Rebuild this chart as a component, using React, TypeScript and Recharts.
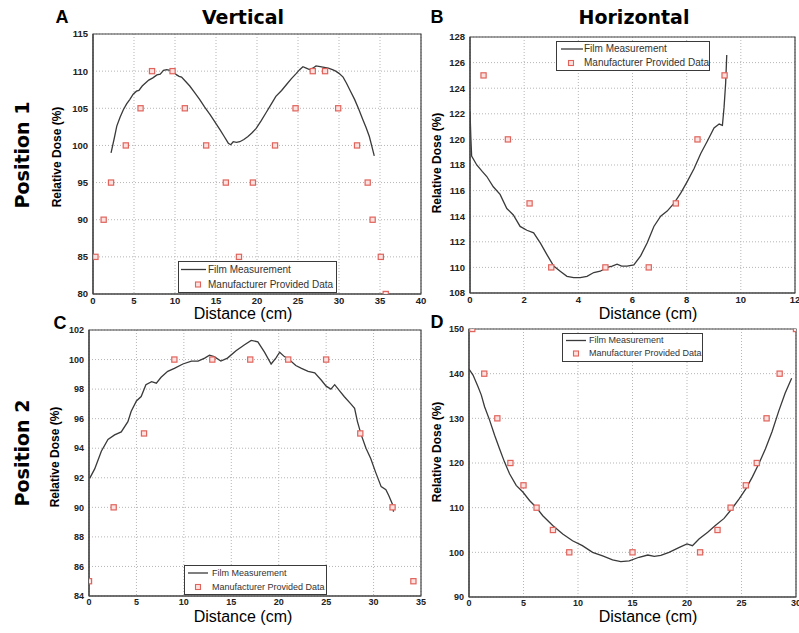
import React from 'react';
import {
  ComposedChart,
  Line,
  Scatter,
  XAxis,
  YAxis,
  CartesianGrid,
  Legend,
  ReferenceArea,
} from 'recharts';

// ---------- Panel A (Position 1, Vertical) ----------
const filmAX = [2.2, 2.6, 2.9, 3.3, 3.7, 4.1, 4.5, 4.9, 5.3, 5.6, 6.0, 6.4, 6.8, 7.3, 7.8, 8.2, 8.6, 9.0, 9.4, 9.8, 10.2, 10.5, 10.8, 11.3, 11.8, 12.4, 13.0, 13.6, 14.3, 14.9, 15.5, 16.0, 16.5, 16.8, 17.1, 17.5, 17.9, 18.4, 18.9, 19.4, 19.9, 20.5, 21.1, 21.7, 22.3, 23.0, 23.6, 24.2, 24.8, 25.2, 25.6, 26.0, 26.4, 26.8, 27.2, 27.7, 28.2, 28.7, 29.2, 29.6, 30.0, 30.5, 30.9, 31.4, 31.9, 32.4, 32.9, 33.3, 33.7, 34.0, 34.3];
const filmAY = [99.0, 101.0, 102.6, 103.8, 104.8, 105.6, 106.2, 106.9, 107.3, 107.4, 108.0, 108.4, 108.8, 109.1, 109.5, 109.6, 110.1, 110.2, 110.1, 109.9, 109.5, 109.3, 109.2, 108.6, 108.0, 107.1, 106.2, 105.2, 104.1, 103.1, 102.1, 101.2, 100.3, 100.1, 100.5, 100.4, 100.5, 100.8, 101.2, 101.7, 102.3, 103.3, 104.4, 105.5, 106.6, 107.4, 108.2, 109.0, 109.7, 110.2, 110.6, 110.4, 110.2, 110.4, 110.7, 110.6, 110.5, 110.4, 110.2, 110.0, 109.7, 109.2, 108.4, 107.3, 106.2, 104.9, 103.5, 102.4, 101.2, 99.9, 98.6];
const mfrAX = [0.3, 1.3, 2.2, 4.0, 5.8, 7.2, 9.7, 11.2, 13.8, 16.2, 17.8, 19.5, 22.2, 24.7, 26.8, 28.3, 29.9, 32.2, 33.5, 34.1, 35.1, 35.7];
const mfrAY = [85, 90, 95, 100, 105, 110, 110, 105, 100, 95, 85, 95, 100, 105, 110, 110, 105, 100, 95, 90, 85, 80];
const xTicksA = [0, 5, 10, 15, 20, 25, 30, 35, 40];
const yTicksA = [80, 85, 90, 95, 100, 105, 110, 115];

// ---------- Panel B (Position 1, Horizontal) ----------
const filmBX = [0, 0.03, 0.06, 0.25, 0.45, 0.62, 0.86, 1.11, 1.36, 1.6, 1.85, 2.1, 2.35, 2.6, 2.84, 3.09, 3.33, 3.58, 3.83, 4.07, 4.32, 4.57, 4.81, 5.06, 5.25, 5.43, 5.6, 5.8, 6.05, 6.3, 6.54, 6.79, 7.04, 7.28, 7.53, 7.78, 8.02, 8.27, 8.52, 8.77, 9.01, 9.2, 9.32, 9.38, 9.44, 9.48];
const filmBY = [122.2, 120.2, 118.7, 118.0, 117.5, 117.1, 116.3, 115.7, 114.6, 114.1, 113.2, 112.9, 112.7, 111.9, 111.0, 110.1, 109.7, 109.3, 109.2, 109.2, 109.3, 109.6, 109.7, 110.0, 110.1, 110.25, 110.1, 110.1, 110.2, 110.9, 111.9, 113.2, 114.0, 114.4, 115.0, 115.8, 116.7, 117.7, 118.9, 119.9, 120.9, 121.2, 121.1, 122.5, 124.4, 126.6];
const mfrBX = [0.5, 1.4, 2.2, 3.0, 5.0, 6.6, 7.6, 8.4, 9.4];
const mfrBY = [125, 120, 115, 110, 110, 110, 115, 120, 125];
const xTicksB = [0, 2, 4, 6, 8, 10, 12];
const yTicksB = [108, 110, 112, 114, 116, 118, 120, 122, 124, 126, 128];

// ---------- Panel C (Position 2, Vertical) ----------
const filmCX = [0.07, 0.6, 1.3, 2.0, 2.7, 3.4, 4.1, 4.45, 5.0, 5.5, 6.0, 6.6, 7.1, 7.6, 8.3, 9.0, 9.9, 10.8, 11.5, 12.2, 12.7, 13.2, 13.9, 14.6, 15.5, 16.4, 17.1, 17.8, 18.5, 19.2, 19.7, 20.1, 20.6, 21.1, 21.8, 22.4, 23.1, 23.8, 24.5, 25.0, 25.5, 25.9, 26.4, 26.9, 27.6, 28.0, 28.3, 28.7, 29.2, 29.7, 30.2, 30.8, 31.3, 31.6, 32.0, 32.1];
const filmCY = [91.96, 92.6, 93.8, 94.6, 94.9, 95.1, 95.8, 96.5, 97.2, 97.5, 98.3, 98.5, 98.4, 98.8, 99.2, 99.4, 99.7, 99.9, 99.9, 100.1, 100.3, 100.2, 99.9, 100.1, 100.6, 101.0, 101.3, 101.2, 100.5, 99.7, 100.1, 100.5, 100.2, 100.0, 99.6, 99.4, 99.2, 99.1, 98.6, 98.2, 98.0, 98.3, 97.9, 97.5, 97.0, 96.7, 95.8, 94.9, 94.0, 93.3, 92.4, 91.4, 91.2, 90.8, 90.2, 89.7];
const mfrCX = [0, 2.6, 5.8, 9.0, 13.0, 17.0, 21.0, 25.0, 28.6, 32.0, 34.2];
const mfrCY = [85, 90, 95, 100, 100, 100, 100, 100, 95, 90, 85];
const xTicksC = [0, 5, 10, 15, 20, 25, 30, 35];
const yTicksC = [84, 86, 88, 90, 92, 94, 96, 98, 100, 102];

// ---------- Panel D (Position 2, Horizontal) ----------
const filmDX = [0, 0.37, 0.82, 1.13, 1.43, 1.89, 2.35, 2.8, 3.26, 3.72, 4.33, 4.94, 5.55, 6.16, 6.77, 7.68, 8.6, 9.5, 10.4, 11.34, 12.26, 13.17, 13.93, 14.7, 15.6, 16.4, 17.0, 17.6, 18.35, 19.3, 20.0, 20.5, 21.1, 21.9, 22.6, 23.4, 24.1, 24.8, 25.4, 26.0, 26.6, 27.2, 27.8, 28.4, 29.0, 29.6];
const filmDY = [141.0, 139.7, 137.1, 135.2, 132.6, 129.6, 126.2, 123.2, 120.2, 117.6, 115.0, 113.5, 111.6, 110.1, 108.2, 106.0, 104.1, 102.6, 101.5, 100.0, 99.2, 98.3, 97.9, 98.1, 98.9, 99.4, 99.1, 99.3, 100.0, 101.1, 101.9, 101.5, 103.0, 104.5, 106.0, 107.6, 109.7, 112.0, 114.2, 116.9, 119.9, 123.2, 127.0, 131.5, 135.6, 139.0];
const mfrDX = [0.3, 1.4, 2.6, 3.8, 5.0, 6.2, 7.7, 9.2, 15.0, 21.2, 22.8, 24.0, 25.4, 26.4, 27.3, 28.5, 30.0];
const mfrDY = [150, 140, 130, 120, 115, 110, 105, 100, 100, 100, 105, 110, 115, 120, 130, 140, 150];
const xTicksD = [0, 5, 10, 15, 20, 25, 30];
const yTicksD = [90, 100, 110, 120, 130, 140, 150];

const FILM_NAME = 'Film Measurement';
const MFR_NAME = 'Manufacturer Provided Data';

const zip = (xs: number[], ys: number[]) => xs.map((x, i) => ({ x, y: ys[i] }));

type LegendLayout = {
  left: number;
  top: number;
  width: number;
  height: number;
  rowH: number;
  lineX1: number;
  lineX2: number;
  markerX: number;
  textX: number;
  fontSize: number;
};

type PanelProps = {
  plotLeft: number;
  plotTop: number;
  plotRight: number;
  plotBottom: number;
  film: { x: number; y: number }[];
  mfr: { x: number; y: number }[];
  xTicks: number[];
  yTicks: number[];
  legend: LegendLayout;
  tickFont: number;
};

const PAD_L = 40;
const PAD_T = 10;
const PAD_R = 6;
const PAD_B = 20;

const SquareMarker = (props: any) => {
  const { cx, cy } = props;
  if (cx == null || cy == null) return null;
  return (
    <rect
      x={cx - 2.6}
      y={cy - 2.6}
      width={5.2}
      height={5.2}
      fill="#fbe1df"
      stroke="#e0645c"
      strokeWidth={1.2}
    />
  );
};

const makeLegendContent = (lg: LegendLayout) => (props: any) => {
  const payload = (props && props.payload) || [];
  return (
    <div
      style={{
        width: lg.width,
        height: lg.height,
        boxSizing: 'border-box',
        border: '1.3px solid #3a3a3a',
        background: '#ffffff',
        position: 'relative',
        fontFamily: '"Liberation Sans", Arial, sans-serif',
        fontSize: lg.fontSize,
        color: '#333',
      }}
    >
      {payload.map((entry: any, i: number) => {
        const isLine = entry.type === 'line';
        return (
          <div
            key={i}
            style={{
              position: 'absolute',
              left: 0,
              top: i * lg.rowH,
              height: lg.rowH,
              width: '100%',
            }}
          >
            <svg
              width={lg.textX}
              height={lg.rowH}
              style={{ position: 'absolute', left: 0, top: 0 }}
            >
              {isLine ? (
                <line
                  x1={lg.lineX1}
                  x2={lg.lineX2}
                  y1={lg.rowH / 2}
                  y2={lg.rowH / 2}
                  stroke="#3a3a3a"
                  strokeWidth={1.3}
                />
              ) : (
                <rect
                  x={lg.markerX - 2.5}
                  y={lg.rowH / 2 - 2.5}
                  width={5}
                  height={5}
                  fill="#fbe1df"
                  stroke="#e0645c"
                  strokeWidth={1.1}
                />
              )}
            </svg>
            <span
              style={{
                position: 'absolute',
                left: lg.textX,
                top: 0,
                lineHeight: `${lg.rowH}px`,
                whiteSpace: 'nowrap',
              }}
            >
              {entry.value}
            </span>
          </div>
        );
      })}
    </div>
  );
};

const Panel = (p: PanelProps) => {
  const plotW = p.plotRight - p.plotLeft;
  const plotH = p.plotBottom - p.plotTop;
  const width = PAD_L + plotW + PAD_R;
  const height = PAD_T + plotH + PAD_B;
  const chartLeft = p.plotLeft - PAD_L;
  const chartTop = p.plotTop - PAD_T;
  const xMin = p.xTicks[0];
  const xMax = p.xTicks[p.xTicks.length - 1];
  const yMin = p.yTicks[0];
  const yMax = p.yTicks[p.yTicks.length - 1];
  const tickStyle = {
    fontSize: p.tickFont,
    fontWeight: 700,
    fill: '#222',
    fontFamily: '"Liberation Sans", Arial, sans-serif',
  };
  return (
    <div style={{ position: 'absolute', left: chartLeft, top: chartTop }}>
      <ComposedChart
        width={width}
        height={height}
        margin={{ top: PAD_T, right: PAD_R, bottom: 0, left: 0 }}
      >
        <CartesianGrid stroke="#b5b5b5" strokeDasharray="1 2" />
        <XAxis
          type="number"
          dataKey="x"
          domain={[xMin, xMax]}
          ticks={p.xTicks}
          interval={0}
          allowDataOverflow
          height={PAD_B}
          tickSize={0}
          tickMargin={3}
          tickLine={false}
          axisLine={{ stroke: '#444', strokeWidth: 1.2 }}
          tick={tickStyle}
        />
        <YAxis
          type="number"
          dataKey="y"
          domain={[yMin, yMax]}
          ticks={p.yTicks}
          interval={0}
          allowDataOverflow
          width={PAD_L}
          tickSize={0}
          tickMargin={5}
          tickLine={false}
          axisLine={{ stroke: '#444', strokeWidth: 1.2 }}
          tick={tickStyle}
        />
        <ReferenceArea
          x1={xMin}
          x2={xMax}
          y1={yMin}
          y2={yMax}
          fill="none"
          fillOpacity={0}
          stroke="#444"
          strokeWidth={1.2}
          ifOverflow="visible"
        />
        <Line
          data={p.film}
          dataKey="y"
          name={FILM_NAME}
          type="linear"
          stroke="#3a3a3a"
          strokeWidth={1.3}
          dot={false}
          legendType="line"
          isAnimationActive={false}
        />
        <Scatter
          data={p.mfr}
          dataKey="y"
          name={MFR_NAME}
          shape={SquareMarker}
          legendType="square"
          isAnimationActive={false}
        />
        <Legend
          layout="horizontal"
          verticalAlign="middle"
          align="center"
          wrapperStyle={{
            left: p.legend.left - chartLeft,
            top: p.legend.top - chartTop,
            width: p.legend.width,
            height: p.legend.height,
          }}
          content={makeLegendContent(p.legend)}
        />
      </ComposedChart>
    </div>
  );
};

const boldTitle = {
  fontFamily: '"DejaVu Sans", sans-serif',
  fontWeight: 700,
  fontSize: 19,
  fill: '#000',
};
const letterStyle = {
  fontFamily: '"Liberation Sans", Arial, sans-serif',
  fontWeight: 700,
  fontSize: 18,
  fill: '#000',
};
const yLabelStyle = {
  fontFamily: '"Liberation Sans", Arial, sans-serif',
  fontWeight: 700,
  fontSize: 12,
  fill: '#000',
};
const xLabelStyle = {
  fontFamily: '"Liberation Sans", Arial, sans-serif',
  fontWeight: 400,
  fontSize: 16,
  fill: '#000',
};

export default function App() {
  return (
    <div
      style={{
        position: 'absolute',
        left: 0,
        top: 0,
        width: 799,
        height: 633,
        background: '#fff',
        overflow: 'hidden',
      }}
    >
      <Panel
        plotLeft={93}
        plotTop={34}
        plotRight={421}
        plotBottom={294}
        film={zip(filmAX, filmAY)}
        mfr={zip(mfrAX, mfrAY)}
        xTicks={xTicksA}
        yTicks={yTicksA}
        tickFont={9.5}
        legend={{ left: 178, top: 261, width: 159, height: 32, rowH: 15, lineX1: 2, lineX2: 27, markerX: 19, textX: 29, fontSize: 10 }}
      />
      <Panel
        plotLeft={470}
        plotTop={37}
        plotRight={795}
        plotBottom={293}
        film={zip(filmBX, filmBY)}
        mfr={zip(mfrBX, mfrBY)}
        xTicks={xTicksB}
        yTicks={yTicksB}
        tickFont={9.5}
        legend={{ left: 556, top: 41, width: 154, height: 30, rowH: 14, lineX1: 4, lineX2: 26, markerX: 14, textX: 27, fontSize: 10 }}
      />
      <Panel
        plotLeft={89}
        plotTop={330}
        plotRight={421}
        plotBottom={596}
        film={zip(filmCX, filmCY)}
        mfr={zip(mfrCX, mfrCY)}
        xTicks={xTicksC}
        yTicks={yTicksC}
        tickFont={9}
        legend={{ left: 184, top: 565, width: 143, height: 30, rowH: 14, lineX1: 3, lineX2: 23, markerX: 13, textX: 27, fontSize: 9 }}
      />
      <Panel
        plotLeft={469}
        plotTop={329}
        plotRight={796}
        plotBottom={597}
        film={zip(filmDX, filmDY)}
        mfr={zip(mfrDX, mfrDY)}
        xTicks={xTicksD}
        yTicks={yTicksD}
        tickFont={9}
        legend={{ left: 562, top: 333, width: 141, height: 29, rowH: 13, lineX1: 3, lineX2: 23, markerX: 13, textX: 26, fontSize: 9 }}
      />
      <svg
        width={799}
        height={633}
        style={{ position: 'absolute', left: 0, top: 0, pointerEvents: 'none' }}
      >
        <text x={62} y={17} textAnchor="middle" dominantBaseline="central" style={letterStyle}>A</text>
        <text x={243} y={17} textAnchor="middle" dominantBaseline="central" style={boldTitle}>Vertical</text>
        <text x={437} y={17} textAnchor="middle" dominantBaseline="central" style={letterStyle}>B</text>
        <text x={634} y={17} textAnchor="middle" dominantBaseline="central" style={boldTitle}>Horizontal</text>
        <text x={60} y={323} textAnchor="middle" dominantBaseline="central" style={letterStyle}>C</text>
        <text x={437} y={322} textAnchor="middle" dominantBaseline="central" style={letterStyle}>D</text>

        <text transform="translate(22,155) rotate(-90)" textAnchor="middle" dominantBaseline="central" style={boldTitle}>Position 1</text>
        <text transform="translate(22,453) rotate(-90)" textAnchor="middle" dominantBaseline="central" style={boldTitle}>Position 2</text>

        <text transform="translate(57,157) rotate(-90)" textAnchor="middle" dominantBaseline="central" style={yLabelStyle}>Relative Dose (%)</text>
        <text transform="translate(437,163) rotate(-90)" textAnchor="middle" dominantBaseline="central" style={yLabelStyle}>Relative Dose (%)</text>
        <text transform="translate(55,457) rotate(-90)" textAnchor="middle" dominantBaseline="central" style={yLabelStyle}>Relative Dose (%)</text>
        <text transform="translate(437,452) rotate(-90)" textAnchor="middle" dominantBaseline="central" style={yLabelStyle}>Relative Dose (%)</text>

        <text x={243} y={313} textAnchor="middle" dominantBaseline="central" style={xLabelStyle}>Distance (cm)</text>
        <text x={648} y={313} textAnchor="middle" dominantBaseline="central" style={xLabelStyle}>Distance (cm)</text>
        <text x={243} y={616} textAnchor="middle" dominantBaseline="central" style={xLabelStyle}>Distance (cm)</text>
        <text x={648} y={616} textAnchor="middle" dominantBaseline="central" style={xLabelStyle}>Distance (cm)</text>
      </svg>
    </div>
  );
}
